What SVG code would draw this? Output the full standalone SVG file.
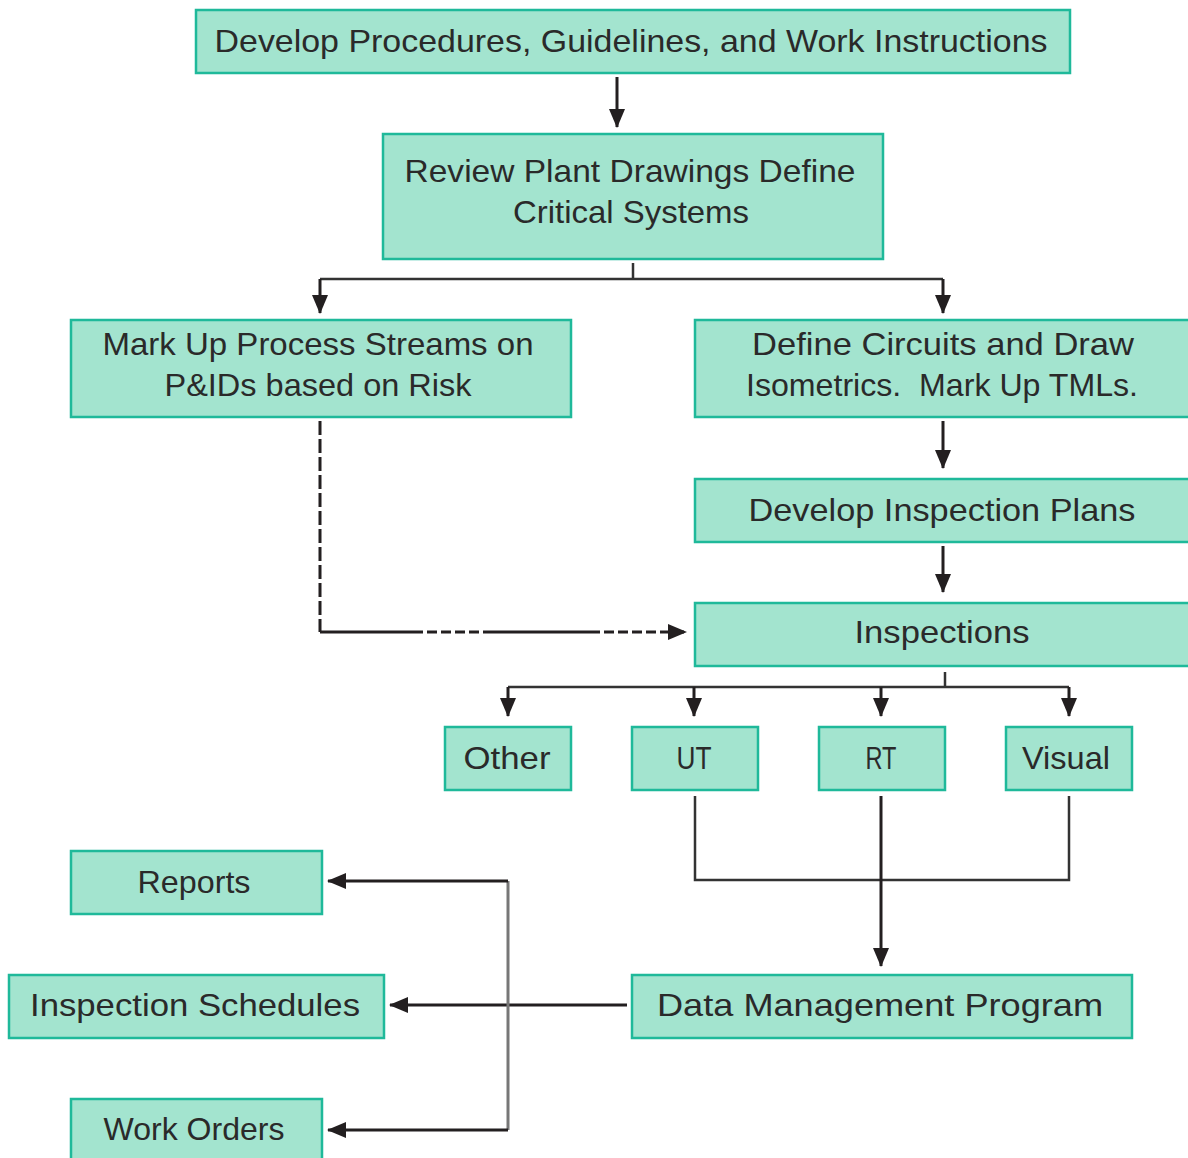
<svg xmlns="http://www.w3.org/2000/svg" width="1188" height="1158" viewBox="0 0 1188 1158">
<style>
.box{fill:#a3e4cf;stroke:#1fb99a;stroke-width:2.5}
.t{font-family:"Liberation Sans",Arial,sans-serif;font-size:32px;fill:#2a2a2a;text-anchor:middle}
.c{fill:none;stroke:#231f20;stroke-width:3}
.th{fill:none;stroke:#333;stroke-width:2.5}
</style>
<defs>
<marker id="ah" markerUnits="userSpaceOnUse" markerWidth="20" markerHeight="20" viewBox="0 0 20 20" refX="18" refY="10" orient="auto">
<path d="M0,2 L19,10 L0,18 Z" fill="#231f20"/>
</marker>
</defs>
<rect width="1188" height="1158" fill="#fff"/>
<g id="connectors">
<path class="c" d="M617,77 V127" marker-end="url(#ah)"/>
<path class="th" d="M633,263 V279"/>
<path class="th" d="M320,279 H943"/>
<path class="c" d="M320,279 V313" marker-end="url(#ah)"/>
<path class="c" d="M943,279 V313" marker-end="url(#ah)"/>
<path class="c" d="M943,421 V468" marker-end="url(#ah)"/>
<path class="c" d="M943,546 V592" marker-end="url(#ah)"/>
<path class="c" d="M320,421 V632" stroke-dasharray="14,4"/>
<path class="c" d="M320,632 H413"/>
<path class="c" d="M413,632 H493" stroke-dasharray="10,4"/>
<path class="c" d="M493,632 H590"/>
<path class="c" d="M590,632 H686" stroke-dasharray="10,4" marker-end="url(#ah)"/>
<path class="th" d="M945,672 V688"/>
<path class="th" d="M508,687 H1069"/>
<path class="c" d="M508,687 V716" marker-end="url(#ah)"/>
<path class="c" d="M694,687 V716" marker-end="url(#ah)"/>
<path class="c" d="M881,687 V716" marker-end="url(#ah)"/>
<path class="c" d="M1069,687 V716" marker-end="url(#ah)"/>
<path class="th" d="M695,796 V880 H1069 V796"/>
<path class="c" d="M881,796 V966" stroke-width="4" marker-end="url(#ah)"/>
<path class="c" d="M627,1005 H390" marker-end="url(#ah)"/>
<path fill="none" stroke="#777" stroke-width="3" d="M508,881 V1130"/>
<path class="c" d="M508,881 H328" marker-end="url(#ah)"/>
<path class="c" d="M508,1130 H328" marker-end="url(#ah)"/>
</g>
<g id="n1"><rect class="box" x="196" y="10" width="874" height="63"/><text class="t" x="631" y="52" textLength="833" lengthAdjust="spacingAndGlyphs">Develop Procedures, Guidelines, and Work Instructions</text></g>
<g id="n2"><rect class="box" x="383" y="134" width="500" height="125"/><text class="t" x="630" y="182" textLength="451" lengthAdjust="spacingAndGlyphs">Review Plant Drawings Define</text><text class="t" x="631" y="223" textLength="236" lengthAdjust="spacingAndGlyphs">Critical Systems</text></g>
<g id="n3"><rect class="box" x="71" y="320" width="500" height="97"/><text class="t" x="318" y="355" textLength="431" lengthAdjust="spacingAndGlyphs">Mark Up Process Streams on</text><text class="t" x="318" y="396" textLength="307" lengthAdjust="spacingAndGlyphs">P&amp;IDs based on Risk</text></g>
<g id="n4"><rect class="box" x="695" y="320" width="500" height="97"/><text class="t" x="943" y="355" textLength="382" lengthAdjust="spacingAndGlyphs">Define Circuits and Draw</text><text class="t" x="942" y="396" xml:space="preserve" textLength="392" lengthAdjust="spacingAndGlyphs">Isometrics.  Mark Up TMLs.</text></g>
<g id="n5"><rect class="box" x="695" y="479" width="500" height="63"/><text class="t" x="942" y="521" textLength="387" lengthAdjust="spacingAndGlyphs">Develop Inspection Plans</text></g>
<g id="n6"><rect class="box" x="695" y="603" width="500" height="63"/><text class="t" x="942" y="643" textLength="175" lengthAdjust="spacingAndGlyphs">Inspections</text></g>
<g id="n7"><rect class="box" x="445" y="727" width="126" height="63"/><text class="t" x="507" y="769" textLength="87" lengthAdjust="spacingAndGlyphs">Other</text></g>
<g id="n8"><rect class="box" x="632" y="727" width="126" height="63"/><text class="t" x="694" y="769" textLength="35" lengthAdjust="spacingAndGlyphs">UT</text></g>
<g id="n9"><rect class="box" x="819" y="727" width="126" height="63"/><text class="t" x="881" y="769" textLength="31" lengthAdjust="spacingAndGlyphs">RT</text></g>
<g id="n10"><rect class="box" x="1006" y="727" width="126" height="63"/><text class="t" x="1066" y="769" textLength="88" lengthAdjust="spacingAndGlyphs">Visual</text></g>
<g id="n11"><rect class="box" x="71" y="851" width="251" height="63"/><text class="t" x="194" y="893" textLength="113" lengthAdjust="spacingAndGlyphs">Reports</text></g>
<g id="n12"><rect class="box" x="9" y="975" width="375" height="63"/><text class="t" x="195" y="1016" textLength="330" lengthAdjust="spacingAndGlyphs">Inspection Schedules</text></g>
<g id="n13"><rect class="box" x="632" y="975" width="500" height="63"/><text class="t" x="880" y="1016" textLength="446" lengthAdjust="spacingAndGlyphs">Data Management Program</text></g>
<g id="n14"><rect class="box" x="71" y="1099" width="251" height="70"/><text class="t" x="194" y="1140" textLength="181" lengthAdjust="spacingAndGlyphs">Work Orders</text></g>
</svg>
